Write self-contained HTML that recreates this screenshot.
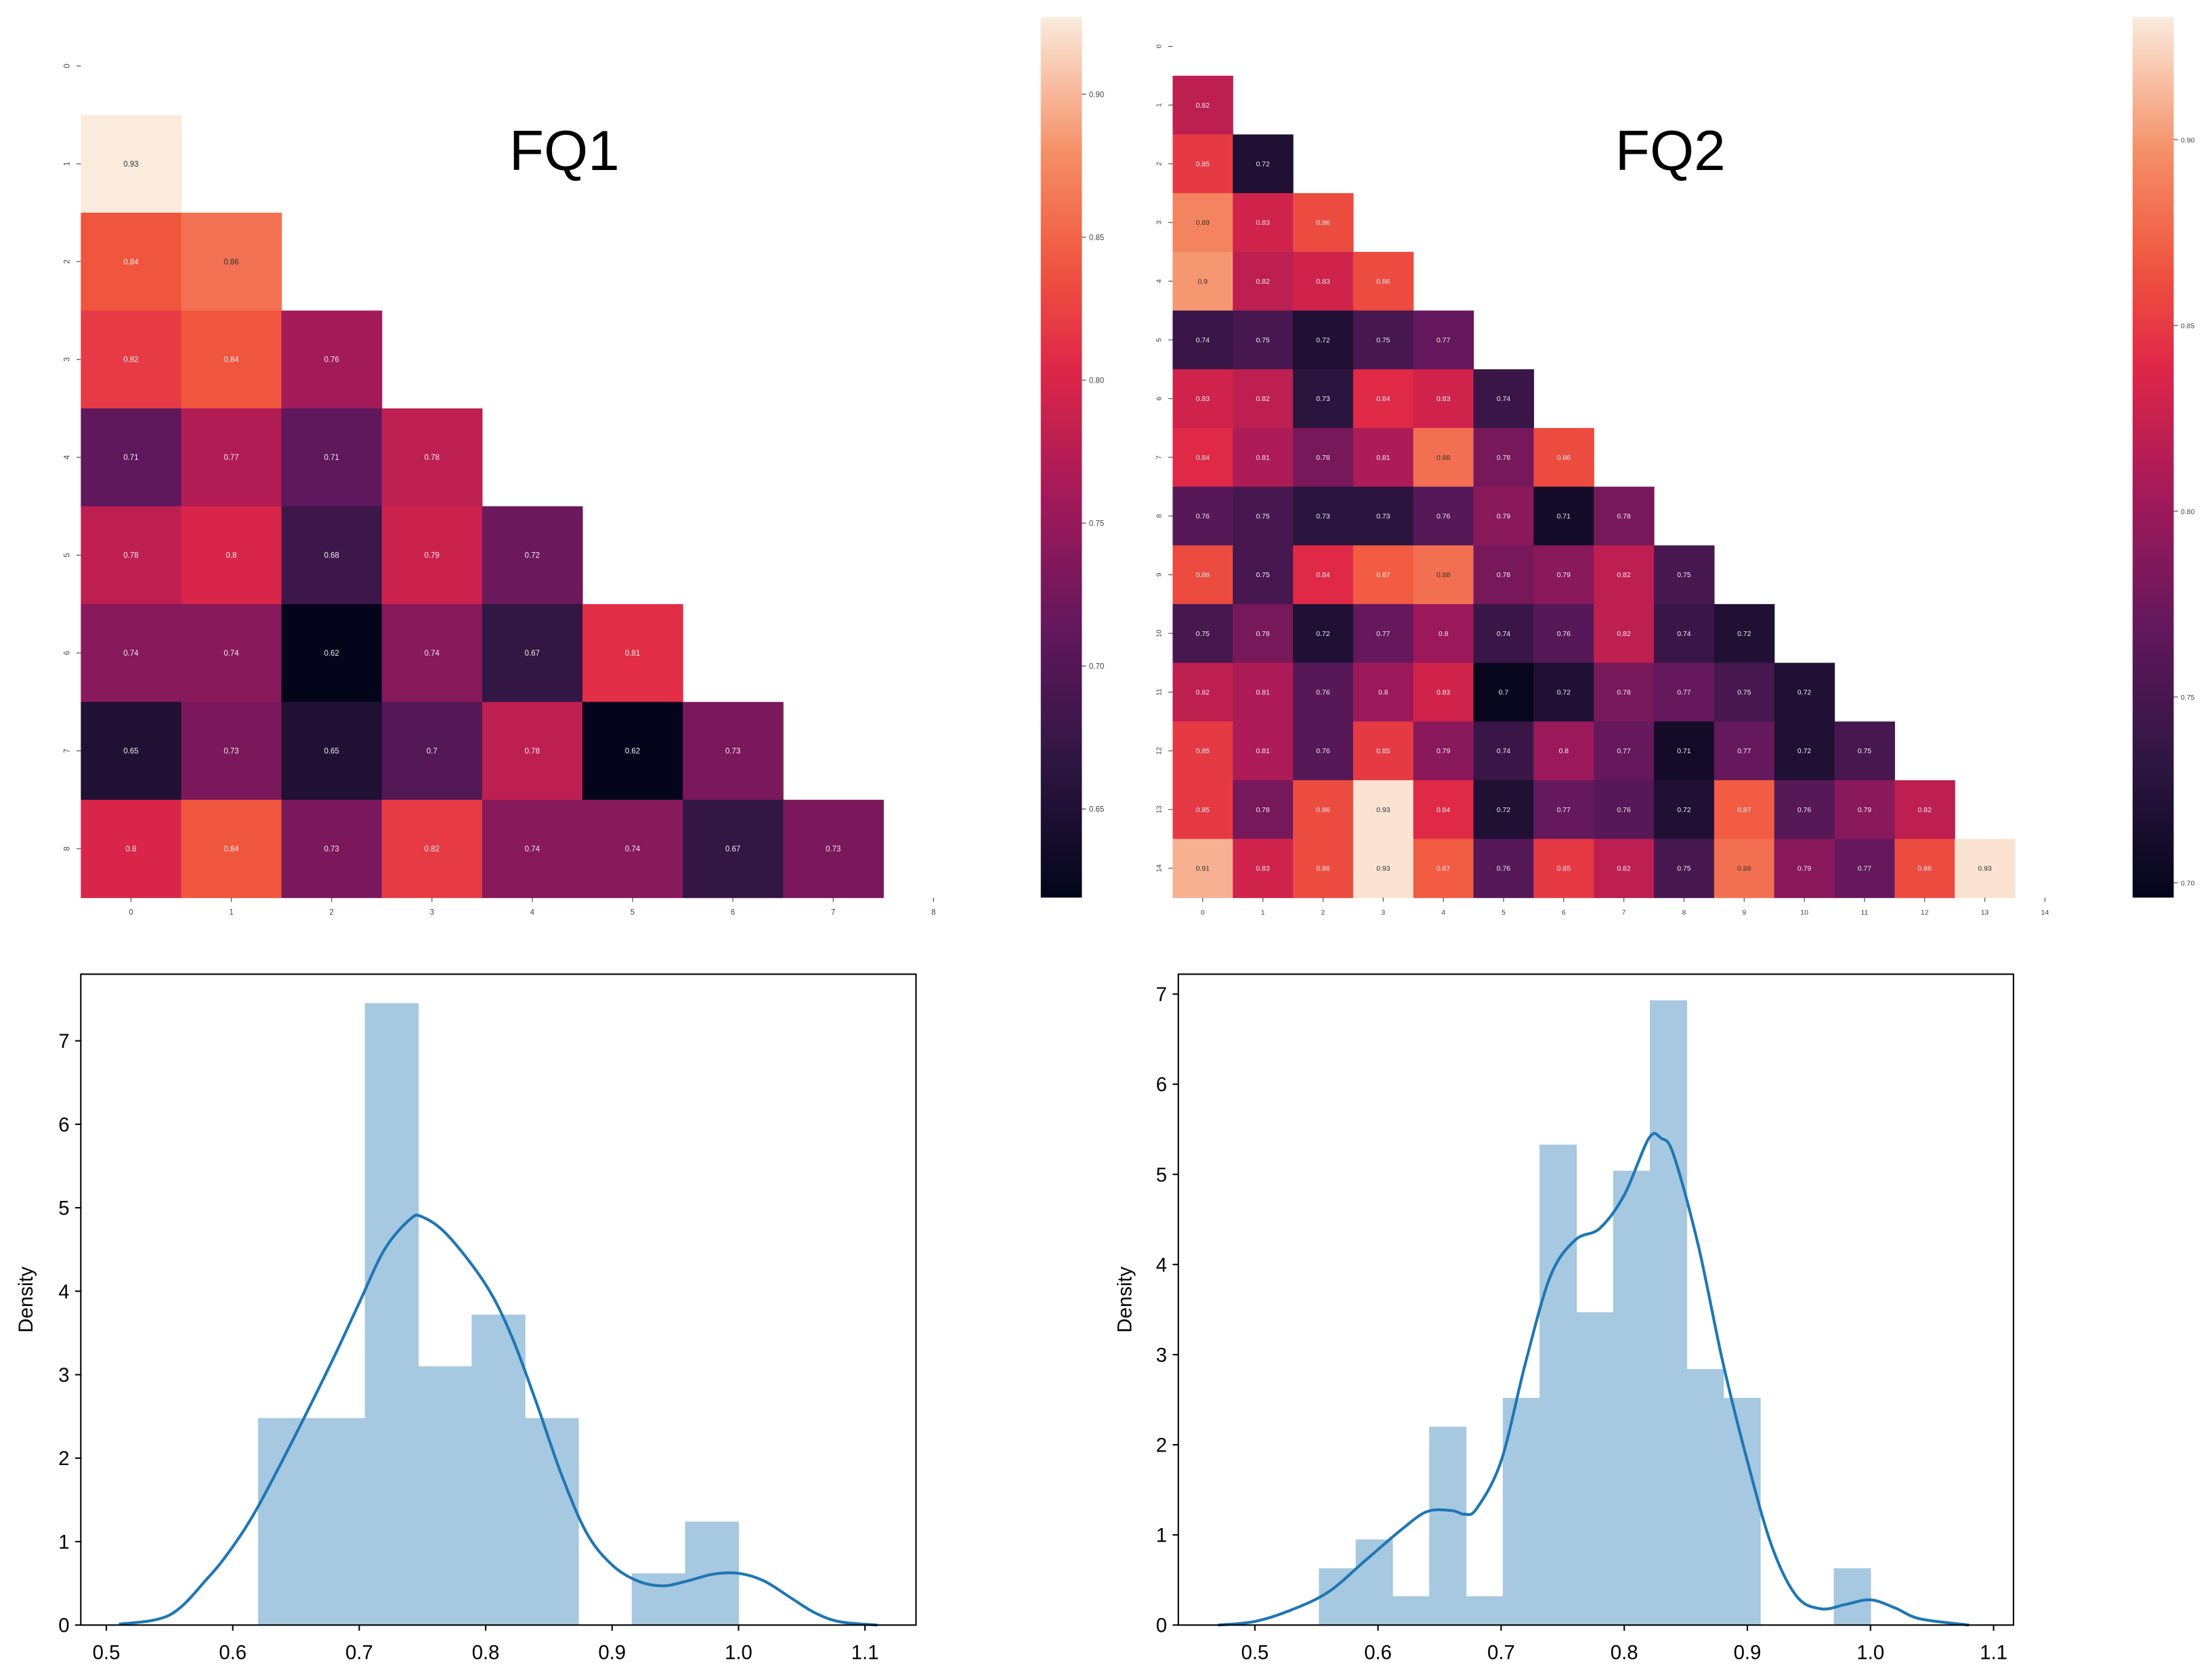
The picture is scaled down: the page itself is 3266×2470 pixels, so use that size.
<!DOCTYPE html>
<html><head><meta charset="utf-8"><style>
html,body{margin:0;padding:0;background:#fff;}
svg{display:block;}
text{font-family:"Liberation Sans","DejaVu Sans",sans-serif;}
</style></head><body>
<svg id="fig" width="3266" height="2470" viewBox="0 0 1560 1179.8" preserveAspectRatio="none" xmlns="http://www.w3.org/2000/svg">
<rect x="0" y="0" width="1560" height="1180" fill="#fff"/>
<text x="398" y="120" font-size="40" text-anchor="middle" fill="#000" font-family="Liberation Sans, sans-serif">FQ1</text>
<text x="1178" y="120" font-size="40" text-anchor="middle" fill="#000">FQ2</text>
<g id="g1"></g>
<g id="g2"></g>
<g id="h1"></g>
<g id="h2"></g>
</svg>
<script>
// ---- data ----
const fq1Matrix = [
 [0.93],
 [0.84,0.86],
 [0.82,0.84,0.76],
 [0.71,0.77,0.71,0.78],
 [0.78,0.8,0.68,0.79,0.72],
 [0.74,0.74,0.62,0.74,0.67,0.81],
 [0.65,0.73,0.65,0.7,0.78,0.62,0.73],
 [0.8,0.84,0.73,0.82,0.74,0.74,0.67,0.73]
];
const fq2Matrix = [
 [0.82],
 [0.85,0.72],
 [0.89,0.83,0.86],
 [0.9,0.82,0.83,0.86],
 [0.74,0.75,0.72,0.75,0.77],
 [0.83,0.82,0.73,0.84,0.83,0.74],
 [0.84,0.81,0.78,0.81,0.88,0.78,0.86],
 [0.76,0.75,0.73,0.73,0.76,0.79,0.71,0.78],
 [0.86,0.75,0.84,0.87,0.88,0.78,0.79,0.82,0.75],
 [0.75,0.78,0.72,0.77,0.8,0.74,0.76,0.82,0.74,0.72],
 [0.82,0.81,0.76,0.8,0.83,0.7,0.72,0.78,0.77,0.75,0.72],
 [0.85,0.81,0.76,0.85,0.79,0.74,0.8,0.77,0.71,0.77,0.72,0.75],
 [0.85,0.78,0.86,0.93,0.84,0.72,0.77,0.76,0.72,0.87,0.76,0.79,0.82],
 [0.91,0.83,0.86,0.93,0.87,0.76,0.85,0.82,0.75,0.88,0.79,0.77,0.86,0.93]
];
const fq1CbarTicks = [0.65,0.70,0.75,0.80,0.85,0.90];
const fq2CbarTicks = [0.70,0.75,0.80,0.85,0.90];

const fq1BinStart = 0.62, fq1BinWidth = 0.04222;
const fq1BinHeights = [2.48,2.48,7.45,3.1,3.72,2.48,0,0.62,1.24];
const fq1KdeX = [0.51,0.55,0.58,0.60,0.62,0.65,0.68,0.70,0.72,0.74,0.75,0.77,0.80,0.82,0.84,0.86,0.88,0.90,0.92,0.94,0.96,0.98,1.00,1.02,1.04,1.06,1.08,1.11];
const fq1KdeY = [0.01,0.12,0.56,0.94,1.42,2.29,3.21,3.86,4.5,4.86,4.89,4.67,4.08,3.48,2.67,1.8,1.1,0.72,0.53,0.47,0.53,0.61,0.62,0.53,0.34,0.15,0.04,0.0];
const fq1XTicks = [0.5,0.6,0.7,0.8,0.9,1.0,1.1];
const fq1YTicks = [0,1,2,3,4,5,6,7];

const fq2BinStart = 0.552, fq2BinWidth = 0.02987;
const fq2BinHeights = [0.63,0.95,0.32,2.2,0.32,2.52,5.33,3.47,5.04,6.93,2.84,2.52,0,0,0.63];
const fq2KdeX = [0.47,0.50,0.53,0.56,0.59,0.62,0.64,0.66,0.67,0.68,0.70,0.72,0.74,0.76,0.78,0.80,0.82,0.83,0.84,0.86,0.88,0.90,0.92,0.94,0.96,0.98,1.00,1.02,1.04,1.08];
const fq2KdeY = [0.0,0.04,0.17,0.37,0.72,1.07,1.26,1.27,1.23,1.29,1.82,2.92,3.87,4.27,4.4,4.77,5.4,5.4,5.22,4.22,2.92,1.82,0.87,0.32,0.18,0.23,0.28,0.19,0.07,0.0];
const fq2XTicks = [0.5,0.6,0.7,0.8,0.9,1.0,1.1];
const fq2YTicks = [0,1,2,3,4,5,6,7];

// ---- helpers ----
const NS = "http://www.w3.org/2000/svg";
function mk(tag, attrs, parent){const e=document.createElementNS(NS,tag);for(const k in attrs)e.setAttribute(k,attrs[k]);parent.appendChild(e);return e;}
const stops=[[0,[3,5,26]],[0.15,[45,22,65]],[0.3,[96,24,92]],[0.45,[160,25,90]],[0.6,[222,38,72]],[0.72,[240,86,62]],[0.85,[245,145,105]],[1,[250,235,221]]];
function rocket(t){t=Math.max(0,Math.min(1,t));for(let i=1;i<stops.length;i++){if(t<=stops[i][0]){const a=stops[i-1],b=stops[i];const f=(t-a[0])/(b[0]-a[0]);const c=a[1].map((v,j)=>Math.round(v+(b[1][j]-v)*f));return `rgb(${c[0]},${c[1]},${c[2]})`;}}return "rgb(250,235,221)";}

function heatmap(g, matrix, n, x0, x1, y0, y1, vmin, vmax, cbx, cbTicks, fs){
  const cw=(x1-x0)/n, ch=(y1-y0)/(n+1);
  const sx=i=>x0+i*cw, sy=r=>y0+r*ch;
  matrix.forEach((row,ri)=>{
    row.forEach((v,ci)=>{
      const t=(v-vmin)/(vmax-vmin);
      const r=mk('rect',{x:sx(ci),y:sy(ri+1),width:cw+0.3,height:ch+0.3,fill:rocket(t)},g);
      
      
      const tx=mk('text',{x:sx(ci)+cw/2,y:sy(ri+1)+ch/2+fs*0.35,'font-size':fs,'text-anchor':'middle',fill:t>0.75?'#333':'#eee'},g);
      tx.textContent=String(v);
      
      
    });
  });
  for(let r=0;r<=n;r++){
    const yy=sy(r)+ch/2;
    mk('line',{x1:x0-3,x2:x0,y1:yy,y2:yy,stroke:'#555','stroke-width':0.6},g);
    const t=mk('text',{x:0,y:0,'font-size':fs,'text-anchor':'middle',fill:'#444',transform:`translate(${x0-8},${yy}) rotate(-90)`},g);
    t.textContent=r;
    
    
  }
  for(let c=0;c<=n;c++){
    const xx=sx(c)+cw/2;
    mk('line',{x1:xx,x2:xx,y1:y1,y2:y1+3,stroke:'#555','stroke-width':0.6},g);
    const t=mk('text',{x:xx,y:y1+12,'font-size':fs,'text-anchor':'middle',fill:'#444'},g);
    t.textContent=c;
    
    
  }
  // colorbar
  const gid='cb'+cbx;
  const defs=mk('defs',{},g);
  const lg=mk('linearGradient',{id:gid,x1:0,y1:1,x2:0,y2:0},defs);
  for(let i=0;i<=20;i++) mk('stop',{offset:i/20,'stop-color':rocket(i/20)},lg);
  const cb=mk('rect',{x:cbx,y:y0,width:29,height:y1-y0,fill:`url(#${gid})`},g);
  
  
  const cy=v=>y1-(v-vmin)/(vmax-vmin)*(y1-y0);
  cbTicks.forEach(v=>{
    mk('line',{x1:cbx+29,x2:cbx+32,y1:cy(v),y2:cy(v),stroke:'#555','stroke-width':0.6},g);
    const t=mk('text',{x:cbx+34,y:cy(v)+2,'font-size':fs,fill:'#444'},g);
    t.textContent=v.toFixed(2);
    
    
  });
}
heatmap(document.getElementById('g1'),fq1Matrix,8,57,623,12,633,0.619,0.927,734,fq1CbarTicks,5.5);
heatmap(document.getElementById('g2'),fq2Matrix,14,827,1421,12,633,0.696,0.933,1504,fq2CbarTicks,5);

function spline(pts){
  let d=`M${pts[0][0]},${pts[0][1]}`;
  for(let i=0;i<pts.length-1;i++){
    const p0=pts[Math.max(0,i-1)],p1=pts[i],p2=pts[i+1],p3=pts[Math.min(pts.length-1,i+2)];
    const c1=[p1[0]+(p2[0]-p0[0])/6,p1[1]+(p2[1]-p0[1])/6];
    const c2=[p2[0]-(p3[0]-p1[0])/6,p2[1]-(p3[1]-p1[1])/6];
    d+=` C${c1[0]},${c1[1]} ${c2[0]},${c2[1]} ${p2[0]},${p2[1]}`;
  }
  return d;
}
function hist(g, box, xa, ya, binStart, binW, heights, kx, ky, xt, yt, densX){
  const sx=v=>xa[0]+(v-xa[1])*xa[2];
  const sy=v=>ya[0]-v*ya[1];
  heights.forEach((h,i)=>{
    if(h<=0) return;
    const r=mk('rect',{x:sx(binStart+i*binW),y:sy(h),width:binW*xa[2]+0.3,height:h*ya[1],fill:'#a6c8e0'},g);
    
    
  });
  const pts=kx.map((x,i)=>[sx(x),sy(ky[i])]);
  const p=mk('path',{d:spline(pts),fill:'none',stroke:'#1f77b4','stroke-width':2},g);
  
  
  const fr=mk('rect',{x:box[0],y:box[1],width:box[2]-box[0],height:box[3]-box[1],fill:'none',stroke:'#000','stroke-width':1},g);
  
  
  xt.forEach(v=>{
    mk('line',{x1:sx(v),x2:sx(v),y1:box[3],y2:box[3]+4,stroke:'#000','stroke-width':1},g);
    const t=mk('text',{x:sx(v),y:box[3]+24,'font-size':14,'text-anchor':'middle',fill:'#000'},g);
    t.textContent=v.toFixed(1);
    
    
  });
  yt.forEach(v=>{
    mk('line',{x1:box[0]-4,x2:box[0],y1:sy(v),y2:sy(v),stroke:'#000','stroke-width':1},g);
    const t=mk('text',{x:box[0]-8,y:sy(v)+5,'font-size':14,'text-anchor':'end',fill:'#000'},g);
    t.textContent=v;
    
    
  });
  const yl=mk('text',{x:0,y:0,'font-size':14,'text-anchor':'middle',fill:'#000',transform:`translate(${densX},${(box[1]+box[3])/2}) rotate(-90)`},g);
  yl.textContent='Density';
  
  
}
hist(document.getElementById('h1'),[57,687,646,1146],[75,0.5,891.7],[1146,58.86],fq1BinStart,fq1BinWidth,fq1BinHeights,fq1KdeX,fq1KdeY,fq1XTicks,fq1YTicks,23);
hist(document.getElementById('h2'),[831,687,1420,1146],[885,0.5,868.3],[1146,63.57],fq2BinStart,fq2BinWidth,fq2BinHeights,fq2KdeX,fq2KdeY,fq2XTicks,fq2YTicks,798);
</script>
</body></html>
